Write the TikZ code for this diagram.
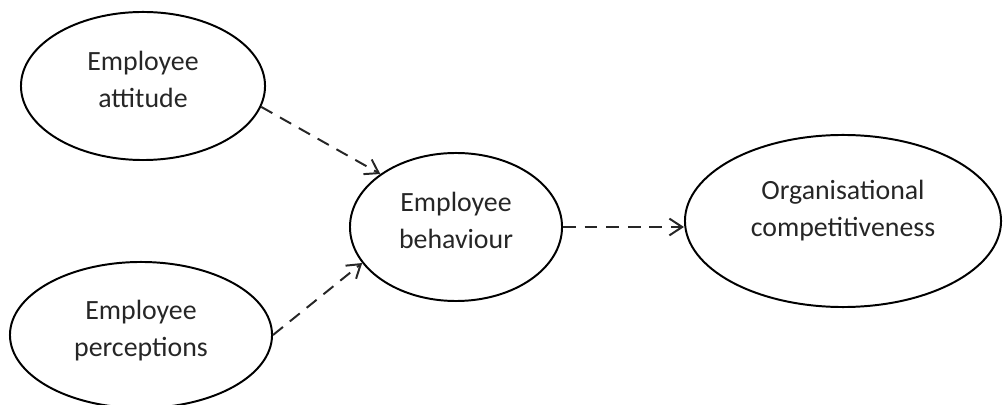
\documentclass[tikz,border=0pt]{standalone}
\usepackage{fontspec}
\setmainfont{Carlito}
\usetikzlibrary{shapes.geometric}
\usetikzlibrary{arrows.meta}

\begin{document}
\begin{tikzpicture}[x=0.025cm, y=-0.025cm,
  oval/.style={draw, ellipse, black, line width=1.4pt, inner sep=0pt, align=center,
    font=\fontsize{19.8}{26.5}\selectfont, text=black!85, text depth=0.35cm},
  dasharrow/.style={line width=1.4pt, black!85, dash pattern=on 0.32cm off 0.22cm}]
\def\l{3.2mm}
\def\w{4.2mm}
\useasboundingbox (0,0) rectangle (1003,405);
%\draw[red] (0,0) rectangle (1003,405);

\node [oval, minimum width=6.1cm, minimum height=3.7cm, name=att]  at (143,86)  {Employee\\attitude};
\node [oval, minimum width=6.55cm, minimum height=3.65cm, name=per] at (141,335) {Employee\\perceptions};
\node [oval, minimum width=5.3cm, minimum height=3.7cm, name=beh]  at (456,227) {Employee\\behaviour};
\node [oval, minimum width=7.9cm, minimum height=4.3cm, text depth=0.62cm, name=org]  at (843,221) {Organisational\\competitiveness};
\draw [dasharrow, -{Straight Barb[length=\l, width=\w]}](att.-10) to (beh.145.6);
\draw [dasharrow, -{Straight Barb[length=\l, width=\w]}](per.0) to (beh.201);
\draw [dasharrow, -{Straight Barb[length=\l, width=\w]}](beh.east) to (beh.east -| org.west);
\end{tikzpicture}
\end{document}
